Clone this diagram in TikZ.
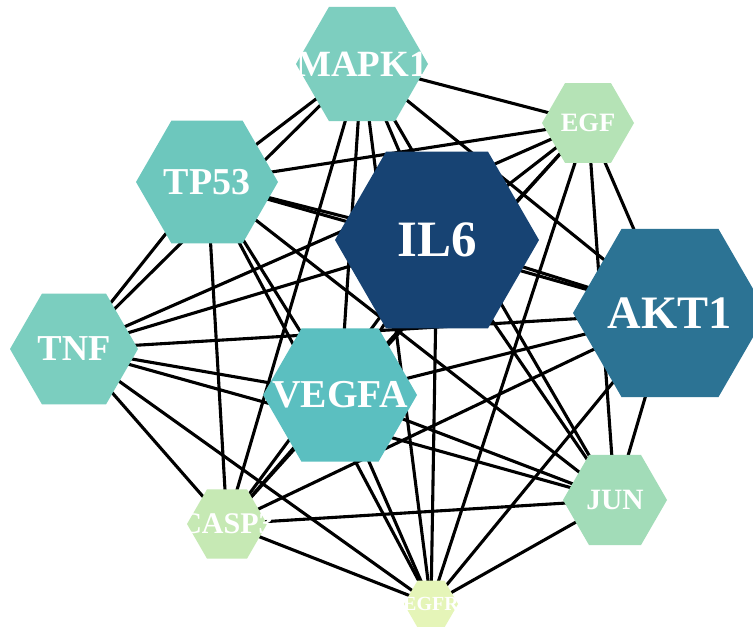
\documentclass[tikz,border=0pt]{standalone}
\usepackage{fontspec}
\setmainfont{Liberation Serif}
\usetikzlibrary{shapes.geometric,backgrounds}
\newcommand{\gsz}[1]{\fontsize{#1}{#1}\selectfont\bfseries}
\definecolor{cIL}{HTML}{174373}
\definecolor{cAKT}{HTML}{2C7394}
\definecolor{cVEG}{HTML}{5BBFC0}
\definecolor{cTP}{HTML}{6DC7BD}
\definecolor{cMAP}{HTML}{7DCEBF}
\definecolor{cTNF}{HTML}{7BCEBF}
\definecolor{cJUN}{HTML}{A2DCB8}
\definecolor{cEGF}{HTML}{B5E3B6}
\definecolor{cCAS}{HTML}{C6E9B4}
\definecolor{cEGFR}{HTML}{E5F5B8}
\tikzset{
  hex/.style n args={2}{regular polygon, regular polygon sides=6,
    minimum size=#1, inner sep=0pt, outer sep=0pt, fill=#2, draw=none},
  lbl/.style={text=white, inner sep=0pt},
  edge/.style={draw=black, line width=3.1pt},
}
\begin{document}
\begin{tikzpicture}[x=1pt,y=-1pt]
\useasboundingbox (0,0) rectangle (753,627);
\clip (0,0) rectangle (753,627);
\node[hex={132pt}{cMAP}, label={[lbl,font=\gsz{37}]center:MAPK1}] (MAPK1) at (362,64) {};
\node[hex={92pt}{cEGF}, label={[lbl,font=\gsz{26.5}]center:EGF}] (EGF) at (588,123) {};
\node[hex={142pt}{cTP}, label={[lbl,font=\gsz{38}]center:TP53}] (TP53) at (207,182) {};
\node[hex={204pt}{cIL}, label={[lbl,font=\gsz{51}]center:IL6}] (IL6) at (437,240) {};
\node[hex={194pt}{cAKT}, label={[lbl,font=\gsz{46.5}]center:AKT1}] (AKT1) at (670,313) {};
\node[hex={128pt}{cTNF}, label={[lbl,font=\gsz{36.5}]center:TNF}] (TNF) at (74,349) {};
\node[hex={154pt}{cVEG}, label={[lbl,font=\gsz{39.5}]center:VEGFA}] (VEGFA) at (340,395) {};
\node[hex={104pt}{cJUN}, label={[lbl,font=\gsz{29.5}]center:JUN}] (JUN) at (615,500) {};
\node[hex={80pt}{cCAS}, label={[lbl,font=\gsz{30}]center:CASP3}] (CASP3) at (227,524) {};
\node[hex={54pt}{cEGFR}, label={[lbl,font=\gsz{20}]center:EGFR}] (EGFR) at (431,604) {};
\begin{scope}[on background layer]
\fill[white] (0,0) rectangle (753,627);
\foreach \a/\others in {
  MAPK1/{EGF,TP53,IL6,AKT1,TNF,VEGFA,JUN,CASP3,EGFR},
  EGF/{TP53,IL6,AKT1,TNF,VEGFA,JUN,CASP3,EGFR},
  TP53/{IL6,AKT1,TNF,VEGFA,JUN,CASP3,EGFR},
  IL6/{AKT1,TNF,VEGFA,JUN,CASP3,EGFR},
  AKT1/{TNF,VEGFA,JUN,CASP3,EGFR},
  TNF/{VEGFA,JUN,CASP3,EGFR},
  VEGFA/{JUN,CASP3,EGFR},
  JUN/{CASP3,EGFR},
  CASP3/{EGFR}}
  \foreach \b in \others
    \draw[edge] (\a.center) -- (\b.center);
\end{scope}
\end{tikzpicture}
\end{document}
